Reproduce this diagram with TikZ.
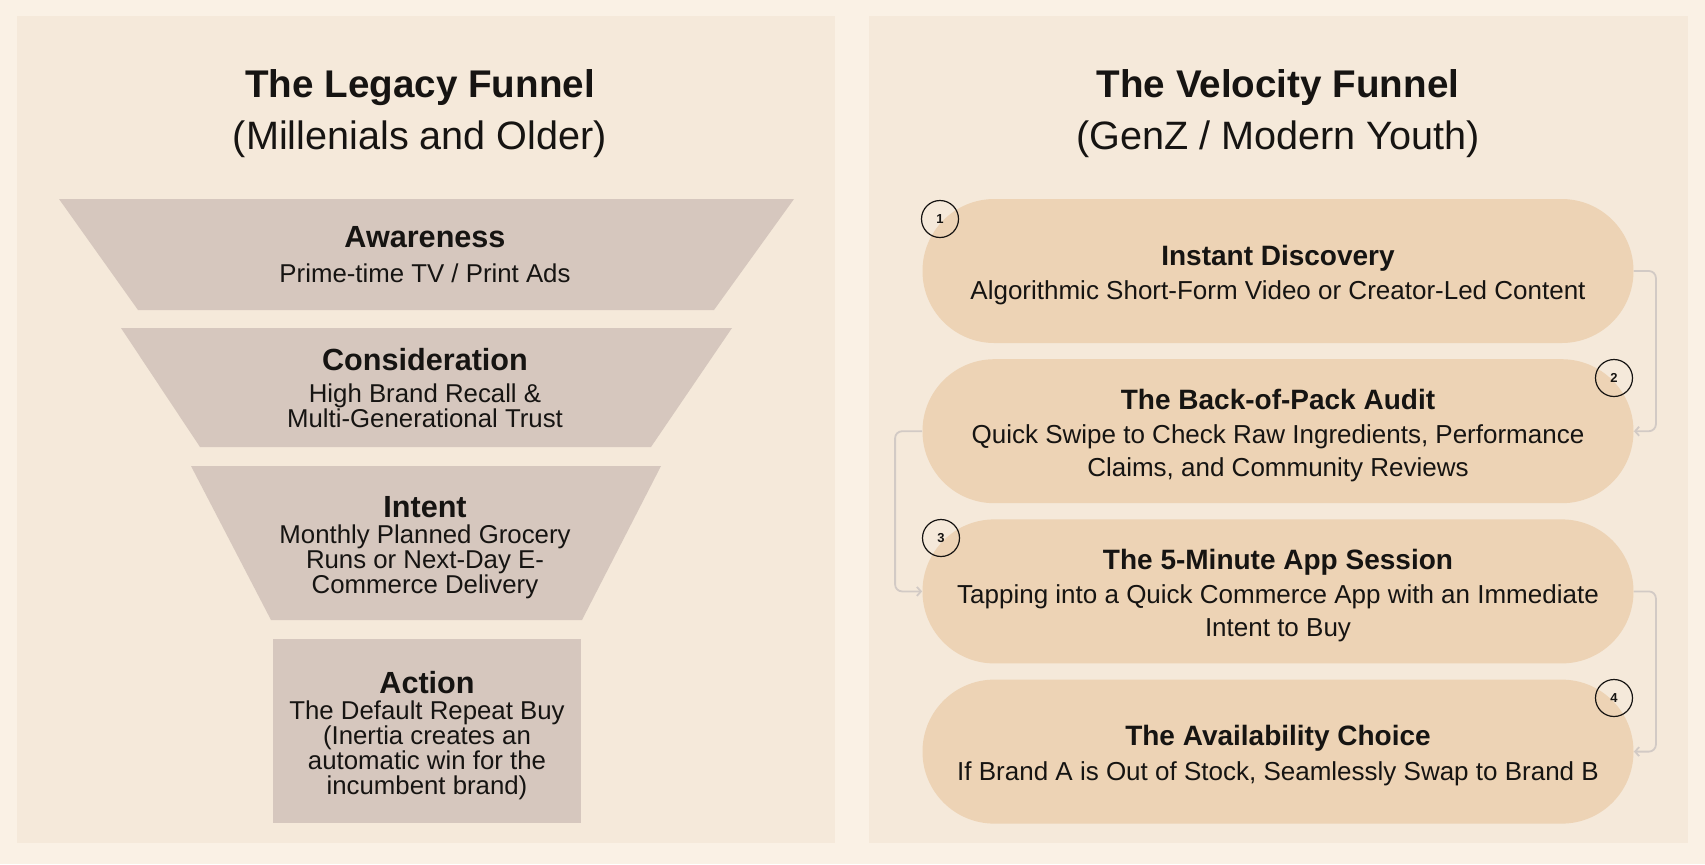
\documentclass[tikz,border=0pt]{standalone}
\usepackage{fontspec}
\setmainfont{Liberation Sans}
\usepackage{xcolor}
\usepackage{tikz}
\usetikzlibrary{positioning, arrows.meta}

\definecolor{pageCream}{RGB}{250, 241, 229}
\definecolor{panelSand}{RGB}{245, 233, 218}
\definecolor{stageTaupe}{RGB}{214, 199, 190}
\definecolor{pillPeach}{RGB}{237, 211, 181}
\definecolor{flowGrey}{RGB}{210, 202, 197}
\definecolor{inkDark}{RGB}{22, 20, 18}

\newcommand{\stagehead}[1]{{\fontsize{15.3}{18}\selectfont\bfseries #1}}
\newcommand{\pillhead}[1]{{\fontsize{14}{17}\selectfont\bfseries\rule{0pt}{14pt}#1}}

\begin{document}
\begin{tikzpicture}[
                x=0.5pt, y=-0.5pt,
                panel/.style={fill=panelSand},
                stage/.style={fill=stageTaupe},
                stagetext/.style={align=center, text=inkDark, font=\fontsize{12.9}{12.5}\selectfont},
                heading/.style={align=center, text=inkDark, font=\fontsize{19.8}{26}\selectfont},
                pill/.style={rectangle, fill=pillPeach, rounded corners=35.9pt, minimum width=355.5pt, minimum height=72pt, align=center, text=inkDark, font=\fontsize{13}{16.3}\selectfont},
                badge/.style={circle, draw=inkDark, line width=0.6pt, minimum size=18.5pt, inner sep=0pt, text=inkDark, font=\fontsize{6.5}{7}\selectfont\bfseries},
                flow/.style={draw=flowGrey, line width=0.9pt, rounded corners=3.5pt, -{Straight Barb[length=2pt, width=4.5pt]}}
            ]

                % background and the two panels
                \useasboundingbox (0,0) rectangle (1705,864);
                \fill[pageCream] (0,0) rectangle (1705,864);
                \fill[panel] (17,16) rectangle (835,843);
                \fill[panel] (869,16) rectangle (1688,843);

                % --- LEGACY FUNNEL (LEFT) ---
                \node[heading] (legacy_head) at (420,113.7) {{\fontsize{19.3}{26}\selectfont\bfseries The Legacy Funnel}\\ (Millenials and Older)};

                \fill[stage] (59,199) -- (794,199) -- (714,310) -- (138,310) -- cycle;
                \fill[stage] (121,328) -- (732,328) -- (651,447) -- (200,447) -- cycle;
                \fill[stage] (191,466) -- (661,466) -- (582,620) -- (271,620) -- cycle;

                \node[stagetext] (aware) at (425,254.5) {\stagehead{Awareness}\\[5.1pt] Prime-time TV / Print Ads};
                \node[stagetext] (consider) at (425,388.5) {\stagehead{Consideration}\\[3.5pt] High Brand Recall \&\\ Multi-Generational Trust};
                \node[stagetext] (intent) at (425,547.5) {\stagehead{Intent}\\[0.4pt] Monthly Planned Grocery\\ Runs or Next-Day E-\\ Commerce Delivery};
                \node[stage, stagetext, minimum width=154pt, minimum height=92pt] (act) at (427,731) {\stagehead{\rule{0pt}{15.6pt}Action}\\[0.4pt] The Default Repeat Buy\\ (Inertia creates an\\ automatic win for the\\ incumbent brand)};

                % --- VELOCITY FUNNEL (RIGHT) ---
                \node[heading] (velocity_head) at (1278,113.7) {{\fontsize{19.3}{26}\selectfont\bfseries The Velocity Funnel}\\ (GenZ / Modern Youth)};

                \node[pill] (discover) at (1278,271) {\pillhead{Instant Discovery}\\[0.9pt] Algorithmic Short-Form Video or Creator-Led Content};
                \node[pill, below=7.7pt of discover] (audit) {\pillhead{The Back-of-Pack Audit}\\[0.9pt] Quick Swipe to Check Raw Ingredients, Performance\\ Claims, and Community Reviews};
                \node[pill, below=7.7pt of audit] (session) {\pillhead{The 5-Minute App Session}\\[0.9pt] Tapping into a Quick Commerce App with an Immediate\\ Intent to Buy};
                \node[pill, below=7.7pt of session] (choice) {\pillhead{The Availability Choice}\\[0.9pt] If Brand A is Out of Stock, Seamlessly Swap to Brand B};

                % step numbers
                \node[badge] (n1) at (940,219) {1};
                \node[badge] (n2) at (1614,378) {2};
                \node[badge] (n3) at (941,538) {3};
                \node[badge] (n4) at (1614,698) {4};

                % connectors between the steps
                \draw[flow] (discover.east) -- ++(22,0) |- (audit.east);
                \draw[flow] (audit.west) -- ++(-27,0) |- (session.west);
                \draw[flow] (session.east) -- ++(22,0) |- (choice.east);

                \end{tikzpicture}
\end{document}
